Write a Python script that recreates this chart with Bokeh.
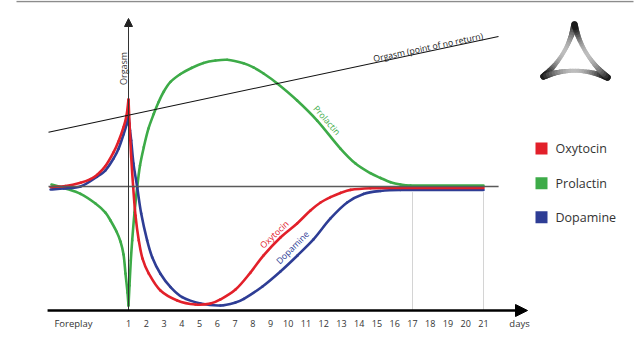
import math
from bokeh.plotting import figure
from bokeh.models import Range1d, Arrow, NormalHead, ColumnDataSource
from bokeh.core.properties import value
from bokeh.embed import file_html
from bokeh.resources import INLINE

FONT = "Open Sans"

# ---------------- data ----------------
# x: day (1 = orgasm, values below 1 = foreplay); y: hormone level relative to baseline (0), floor = -100
DAY_TICKS = list(range(1, 22))
DAY_LABELS = [str(d) for d in DAY_TICKS]

OXY_DAY = [-3.39, -2.55, -1.70, -1.14, -0.76, -0.30, 0.155, 0.44, 0.72, 0.89, 1.0,
           1.056, 1.152, 1.265, 1.394, 1.58, 1.789, 2.144, 2.80, 3.744, 4.775, 5.62, 6.18,
           7.03, 7.87, 8.61, 9.56, 10.50, 11.25, 11.82, 12.38, 12.94, 13.51, 14.63, 16.32, 21.0]
OXY_LEVEL = [-0.4, 0.4, 3.0, 6.0, 9.5, 16.5, 27.5, 36.5, 47.8, 57.3, 70.2,
             50.8, 23.6, -0.6, -23.4, -43.5, -58.1, -70.2, -83.9, -91.9, -95.2, -94.4, -91.1,
             -83.1, -69.4, -55.6, -41.1, -29.8, -19.4, -12.9, -8.6, -5.2, -2.7, -1.4, -1.2, -1.2]

DOPA_DAY = [-3.39, -2.65, -1.70, -0.76, -0.30, 0.155, 0.44, 0.72, 0.89, 1.0,
            1.085, 1.152, 1.28, 1.49, 1.715, 2.05, 2.335, 2.80, 3.37, 4.025,
            5.06, 6.18, 7.03, 7.50, 8.55, 9.56, 10.52, 11.42, 12.38, 13.32,
            14.24, 15.20, 16.32, 21.0]
DOPA_LEVEL = [-2.4, -1.6, 0.0, 8.0, 13.0, 22.5, 30.5, 42.0, 49.8, 57.3,
              45.2, 37.1, 18.5, -0.6, -21.8, -43.5, -57.0, -70.4, -81.2, -89.3,
              -94.4, -96.0, -93.5, -90.6, -80.6, -68.5, -55.6, -42.7, -25.8, -12.9,
              -6.0, -3.6, -2.8, -2.8]

PRL_DAY = [-3.34, -2.55, -1.70, -0.86, -0.30, -0.014, 0.324, 0.55, 0.72, 0.83, 0.944, 1.0,
           1.056, 1.13, 1.208, 1.338, 1.49, 1.648, 1.862, 2.127, 2.425, 2.69,
           2.99, 3.366, 3.93, 4.55, 5.225, 5.90, 6.56, 7.48, 8.04, 8.61,
           9.38, 10.50, 11.63, 12.94, 13.79, 14.63, 15.20, 15.76, 16.32, 16.89, 21.0]
PRL_LEVEL = [1.6, -1.6, -5.9, -13.7, -21.0, -27.4, -36.3, -44.4, -54.8, -70.2, -85.5, -96.0,
             -79.8, -59.7, -43.5, -21.0, -0.6, 16.9, 31.7, 46.8, 58.6, 67.9,
             76.6, 84.3, 90.7, 95.6, 99.6, 101.6, 102.2, 99.4, 96.0, 91.1,
             83.1, 69.4, 53.2, 30.6, 18.5, 10.7, 6.9, 3.5, 1.6, 0.8, 0.8]

ORGASM_DAY = 1.0
ORGASM_LINE_DAY = [-3.507, 21.845]
ORGASM_LINE_LEVEL = [43.8, 121.0]

LEGEND_NAMES = ["Oxytocin", "Prolactin", "Dopamine"]
RED, GREEN, BLUE = "#e2202a", "#3dab48", "#2e3d95"
LEGEND_COLORS = [RED, GREEN, BLUE]

# ---------------- figure ----------------
PX_PER_DAY = 17.75
PX_PER_UNIT = 1.24
W, H = 640, 340
x0 = 1 - 128 / PX_PER_DAY
x1 = 1 + (W - 128) / PX_PER_DAY
y1 = 186 / PX_PER_UNIT
y0 = (186 - H) / PX_PER_UNIT

p = figure(width=W, height=H, output_backend="svg", toolbar_location=None,
           x_range=Range1d(x0, x1), y_range=Range1d(y0, y1),
           x_axis_location=None, y_axis_location=None, min_border=0)
p.outline_line_color = None
p.xgrid.visible = False
p.ygrid.visible = False
p.background_fill_color = "white"
p.border_fill_color = "white"


def pd(px, py):
    return 1 + (px - 128) / PX_PER_DAY, (186 - py) / PX_PER_UNIT


def smooth(xs, ys, color, lw):
    """Draw a smooth curve through the given points (chord-length Catmull-Rom, as Bezier pieces)."""
    n = len(xs)
    sx = [x * PX_PER_DAY for x in xs]
    sy = [y * PX_PER_UNIT for y in ys]
    t = [0.0]
    for i in range(1, n):
        t.append(t[-1] + max(math.hypot(sx[i] - sx[i - 1], sy[i] - sy[i - 1]), 1e-6))
    mx, my = [], []
    for i in range(n):
        a = max(i - 1, 0)
        b = min(i + 1, n - 1)
        dt = t[b] - t[a]
        mx.append((xs[b] - xs[a]) / dt)
        my.append((ys[b] - ys[a]) / dt)
    d = dict(x0=[], y0=[], x1=[], y1=[], cx0=[], cy0=[], cx1=[], cy1=[])
    for i in range(n - 1):
        h = (t[i + 1] - t[i]) / 3
        d["x0"].append(xs[i]); d["y0"].append(ys[i])
        d["x1"].append(xs[i + 1]); d["y1"].append(ys[i + 1])
        d["cx0"].append(xs[i] + mx[i] * h); d["cy0"].append(ys[i] + my[i] * h)
        d["cx1"].append(xs[i + 1] - mx[i + 1] * h); d["cy1"].append(ys[i + 1] - my[i + 1] * h)
    p.bezier(x0="x0", y0="y0", x1="x1", y1="y1", cx0="cx0", cy0="cy0", cx1="cx1", cy1="cy1",
             source=ColumnDataSource(d), line_color=color, line_width=lw, line_cap="round")


def curve(days, levels, color, lw):
    k = days.index(ORGASM_DAY)   # sharp turn at orgasm
    smooth(days[:k + 1], levels[:k + 1], color, lw)
    smooth(days[k:], levels[k:], color, lw)


# top frame line
a, b = pd(16, 1)
c, _ = pd(633, 1)
p.segment(x0=a, y0=b, x1=c, y1=b, line_color="#8c8c8c", line_width=1.6)

# light verticals at 17 and 21
p.segment(x0=[17, 21], y0=-4.6, x1=[17, 21], y1=-100, line_color="#d4d4d4", line_width=1)

# curves
LW = 2.6
curve(PRL_DAY, PRL_LEVEL, GREEN, LW)
curve(DOPA_DAY, DOPA_LEVEL, BLUE, LW)
curve(OXY_DAY, OXY_LEVEL, RED, LW)

# baseline
p.segment(x0=-3.507, y0=0, x1=21.85, y1=0, line_color="#5a5a5a", line_width=1.3)
# orgasm (point of no return) line
p.line(ORGASM_LINE_DAY, ORGASM_LINE_LEVEL, line_color="#111111", line_width=1.1)

# vertical orgasm axis
p.add_layout(Arrow(end=NormalHead(size=8, fill_color="#222222", line_color="#222222"),
                   x_start=1, y_start=-100, x_end=1, y_end=(186 - 18) / PX_PER_UNIT,
                   line_color="#333333", line_width=1))
# horizontal time axis
p.add_layout(Arrow(end=NormalHead(size=12, fill_color="black", line_color="black"),
                   x_start=-3.56, y_start=-100, x_end=23.48, y_end=-100,
                   line_color="black", line_width=2.6))

# tick labels
src_t = ColumnDataSource(dict(x=DAY_TICKS, t=DAY_LABELS))
p.text(x="x", y=-110.5, text="t", source=src_t, text_font=value(FONT), text_font_size="9px",
       text_color="#333333", text_align="center", text_baseline="middle")
p.text(x=[-2.1], y=[-110.5], text=["Foreplay"], text_font=value(FONT), text_font_size="9.5px",
       text_color="#333333", text_align="center", text_baseline="middle")
p.text(x=[23.03], y=[-110.5], text=["days"], text_font=value(FONT), text_font_size="9.5px",
       text_color="#333333", text_align="center", text_baseline="middle")

# axis texts
p.text(x=[0.70], y=[95.2], text=["Orgasm"], angle=math.pi / 2, text_font=value(FONT),
       text_font_size="9px", text_color="#333333", text_align="center", text_baseline="middle")
ang = math.atan((131.7 - 36) / (498 - 48))
p.text(x=[14.8], y=[99.5 + 3.2], text=["Orgasm (point of no return)"], angle=ang,
       text_font=value(FONT), text_font_size="8.7px", text_color="#222222",
       text_align="left", text_baseline="alphabetic")

# curve labels
p.text(x=[12.17], y=[53.3], text=["Prolactin"], angle=-0.85, text_font=value(FONT),
       text_font_size="8.7px", text_color=GREEN, text_align="center", text_baseline="middle")
p.text(x=[9.22], y=[-38.8], text=["Oxytocin"], angle=0.756, text_font=value(FONT),
       text_font_size="8.7px", text_color=RED, text_align="center", text_baseline="middle")
p.text(x=[10.25], y=[-49.3], text=["Dopamine"], angle=0.785, text_font=value(FONT),
       text_font_size="8.7px", text_color=BLUE, text_align="center", text_baseline="middle")

# legend
leg_y = [(186 - py) / PX_PER_UNIT for py in (148, 182.7, 216.7)]
src_l = ColumnDataSource(dict(y=leg_y, name=LEGEND_NAMES, color=LEGEND_COLORS))
p.scatter(x=pd(541, 0)[0], y="y", marker="square", size=12, fill_color="color",
          line_color=None, source=src_l)
p.text(x=pd(555, 0)[0], y="y", text="name", source=src_l, text_font=value(FONT),
       text_font_size="12.5px", text_color="#333333", text_align="left", text_baseline="middle")

# logo (curved triangle)
T, L, R = (574, 24), (543, 76), (607, 77)
sides = [(T, (567, 55), L), (L, (575, 64), R), (R, (581.7, 55.2), T)]
sx0, sy0, sx1, sy1, scol, swid = [], [], [], [], [], []
N = 24
for (P0, C, P2) in sides:
    pts = []
    for i in range(N + 1):
        tt = i / N
        bx = (1 - tt) ** 2 * P0[0] + 2 * (1 - tt) * tt * C[0] + tt ** 2 * P2[0]
        by = (1 - tt) ** 2 * P0[1] + 2 * (1 - tt) * tt * C[1] + tt ** 2 * P2[1]
        pts.append(pd(bx, by))
    for i in range(N):
        tm = (i + 0.5) / N
        s = math.sin(math.pi * tm)
        g = int(15 + 175 * s)
        sx0.append(pts[i][0]); sy0.append(pts[i][1])
        sx1.append(pts[i + 1][0]); sy1.append(pts[i + 1][1])
        scol.append("#%02x%02x%02x" % (g, g, g))
        swid.append(6.5 - 2.5 * s)
src_logo = ColumnDataSource(dict(x0=sx0, y0=sy0, x1=sx1, y1=sy1, c=scol, w=swid))
p.segment(x0="x0", y0="y0", x1="x1", y1="y1", line_color="c", line_width="w",
          line_cap="round", source=src_logo)

open("out.html", "w").write(file_html(p, INLINE))
